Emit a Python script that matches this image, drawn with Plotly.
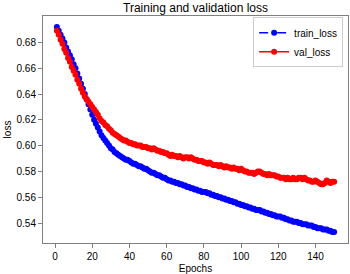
import plotly.graph_objects as go

epochs = list(range(1, 151))

train_loss = [
    0.692, 0.689, 0.686, 0.683, 0.680, 0.676, 0.673, 0.670, 0.667, 0.663,
    0.660, 0.656, 0.652, 0.648, 0.644, 0.640, 0.636, 0.632, 0.628, 0.624,
    0.620, 0.617, 0.614, 0.611, 0.608, 0.606, 0.604, 0.602, 0.600, 0.598,
    0.597, 0.595, 0.594, 0.593, 0.592, 0.591, 0.590, 0.589, 0.589, 0.588,
    0.587, 0.586, 0.586, 0.585, 0.584, 0.584, 0.583, 0.582, 0.582, 0.581,
    0.580, 0.579, 0.579, 0.578, 0.577, 0.577, 0.576, 0.575, 0.575, 0.574,
    0.573, 0.573, 0.572, 0.572, 0.571, 0.571, 0.570, 0.570, 0.569, 0.569,
    0.568, 0.568, 0.567, 0.567, 0.566, 0.566, 0.565, 0.565, 0.564, 0.564,
    0.564, 0.563, 0.563, 0.562, 0.562, 0.561, 0.561, 0.560, 0.560, 0.559,
    0.559, 0.558, 0.558, 0.557, 0.557, 0.556, 0.556, 0.555, 0.555, 0.554,
    0.554, 0.553, 0.553, 0.552, 0.552, 0.551, 0.551, 0.550, 0.550, 0.550,
    0.549, 0.549, 0.548, 0.548, 0.547, 0.547, 0.546, 0.546, 0.545, 0.545,
    0.545, 0.544, 0.544, 0.543, 0.543, 0.542, 0.542, 0.541, 0.541, 0.541,
    0.540, 0.540, 0.539, 0.539, 0.539, 0.538, 0.538, 0.538, 0.537, 0.537,
    0.536, 0.536, 0.536, 0.535, 0.535, 0.535, 0.534, 0.534, 0.533, 0.533,
]

val_loss = [
    0.689, 0.686, 0.682, 0.679, 0.675, 0.672, 0.668, 0.665, 0.661, 0.658,
    0.655, 0.651, 0.648, 0.644, 0.641, 0.638, 0.636, 0.634, 0.632, 0.630,
    0.628, 0.626, 0.624, 0.621, 0.619, 0.618, 0.616, 0.615, 0.613, 0.612,
    0.610, 0.609, 0.608, 0.607, 0.606, 0.605, 0.604, 0.604, 0.603, 0.602,
    0.602, 0.601, 0.601, 0.600, 0.600, 0.600, 0.599, 0.599, 0.599, 0.598,
    0.598, 0.597, 0.598, 0.597, 0.596, 0.596, 0.595, 0.595, 0.594, 0.594,
    0.593, 0.592, 0.593, 0.592, 0.592, 0.591, 0.592, 0.591, 0.590, 0.591,
    0.591, 0.590, 0.591, 0.590, 0.589, 0.589, 0.588, 0.588, 0.588, 0.587,
    0.587, 0.586, 0.587, 0.586, 0.585, 0.585, 0.585, 0.584, 0.585, 0.584,
    0.583, 0.584, 0.583, 0.583, 0.582, 0.583, 0.582, 0.582, 0.581, 0.582,
    0.581, 0.580, 0.580, 0.579, 0.579, 0.579, 0.578, 0.579, 0.580, 0.580,
    0.579, 0.578, 0.578, 0.577, 0.578, 0.577, 0.577, 0.577, 0.576, 0.576,
    0.575, 0.575, 0.575, 0.574, 0.575, 0.574, 0.574, 0.575, 0.574, 0.574,
    0.575, 0.575, 0.574, 0.575, 0.574, 0.573, 0.573, 0.572, 0.572, 0.573,
    0.572, 0.571, 0.570, 0.570, 0.571, 0.573, 0.572, 0.571, 0.572, 0.572,
]

x_ticks = [0, 20, 40, 60, 80, 100, 120, 140]
y_ticks = [0.54, 0.56, 0.58, 0.60, 0.62, 0.64, 0.66, 0.68]
y_tick_labels = ["0.54", "0.56", "0.58", "0.60", "0.62", "0.64", "0.66", "0.68"]

FONT = "Liberation Sans, Arial, sans-serif"

fig = go.Figure()
fig.add_trace(go.Scatter(
    x=epochs, y=train_loss, name="train_loss", mode="lines+markers",
    line=dict(color="#0000ff", width=1.5, dash="dash"),
    marker=dict(color="#0000ff", size=6, symbol="circle", line=dict(width=0)),
))
fig.add_trace(go.Scatter(
    x=epochs, y=val_loss, name="val_loss", mode="lines+markers",
    line=dict(color="#ff0000", width=1.5),
    marker=dict(color="#ff0000", size=6, symbol="circle", line=dict(width=0)),
))

axis_common = dict(
    showgrid=False, zeroline=False, showline=True, mirror=True,
    linecolor="#808080", linewidth=1,
    ticks="outside", ticklen=4, tickwidth=1, tickcolor="#808080",
    tickfont=dict(family=FONT, size=10, color="#000000"),
)

fig.update_layout(
    width=350, height=274,
    margin=dict(l=43, r=2, t=16, b=31),
    paper_bgcolor="white", plot_bgcolor="white",
    font=dict(family=FONT, size=10, color="#000000"),
    title=dict(text="Training and validation loss", x=0.5, xref="paper",
               y=1 - 8 / 274, yref="container", yanchor="middle",
               font=dict(family=FONT, size=12, color="#000000")),
    xaxis=dict(range=[-6.45, 157.45], tickvals=x_ticks,
               title=dict(text="Epochs", standoff=3,
                          font=dict(family=FONT, size=10)),
               **axis_common),
    yaxis=dict(range=[0.5245, 0.7005], tickvals=y_ticks, ticktext=y_tick_labels,
               title=dict(text="loss", standoff=3,
                          font=dict(family=FONT, size=10)),
               **axis_common),
    legend=dict(x=0.984, y=0.995, xanchor="right", yanchor="top",
                bgcolor="white", bordercolor="#cccccc", borderwidth=1,
                font=dict(family=FONT, size=10), itemwidth=30,
                tracegroupgap=0),
    showlegend=True,
)

fig.write_html(
    "out.html",
    config={"displayModeBar": False},
    post_script="document.body.style.margin='0';document.body.style.padding='0';",
)
